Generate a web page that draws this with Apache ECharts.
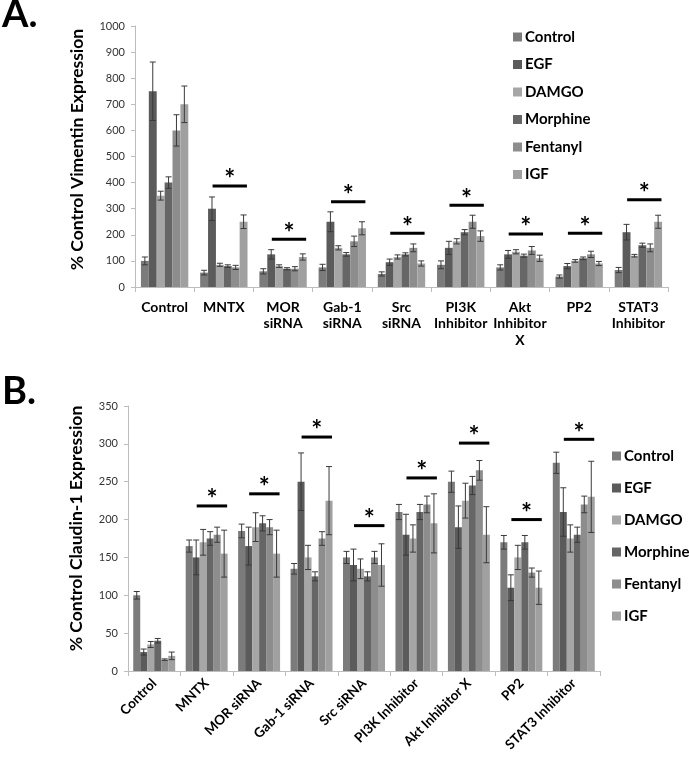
<!DOCTYPE html>
<html style="height: 100%">
<head>
    <meta charset="utf-8">
</head>
<body style="height: 100%; margin: 0; background: #fff">
    <div id="container" style="width: 689px; height: 765px"></div>
    <script type="text/javascript" src="https://cdn.jsdelivr.net/npm/echarts@6.0.0/dist/echarts.min.js"></script>
    <script type="text/javascript">
        // treatments (legend) and groups
        var seriesNames = ['Control', 'EGF', 'DAMGO', 'Morphine', 'Fentanyl', 'IGF'];
        var seriesColors = ['#7b7b7b', '#5b5b5b', '#a6a6a6', '#666666', '#8d8d8d', '#a0a0a0'];
        var categoriesA = ['Control', 'MNTX', 'MOR\nsiRNA', 'Gab-1\nsiRNA', 'Src\nsiRNA', 'PI3K\nInhibitor', 'Akt\nInhibitor\nX', 'PP2', 'STAT3\nInhibitor'];
        var categoriesB = ['Control', 'MNTX', 'MOR siRNA', 'Gab-1 siRNA', 'Src siRNA', 'PI3K Inhibitor', 'Akt Inhibitor X', 'PP2', 'STAT3 Inhibitor'];

        // A. vimentin, one row per treatment
        var vimMeans = [
            [100, 55, 60, 75, 50, 85, 75, 40, 65],
            [750, 300, 125, 250, 95, 150, 125, 80, 210],
            [350, 85, 80, 150, 115, 175, 135, 100, 120],
            [400, 80, 70, 125, 125, 210, 120, 110, 160],
            [600, 75, 70, 175, 150, 250, 140, 125, 150],
            [700, 250, 115, 225, 90, 195, 110, 90, 250]
        ];
        var vimErrors = [
            [15, 9, 10, 12, 8, 15, 10, 6, 10],
            [112, 45, 18, 38, 12, 25, 15, 10, 30],
            [17, 6, 5, 8, 8, 10, 8, 5, 5],
            [22, 5, 4, 7, 6, 10, 6, 5, 8],
            [60, 8, 8, 20, 15, 25, 15, 12, 15],
            [70, 26, 12, 25, 10, 20, 12, 8, 25]
        ];
        var vimSigLine = [null, 387, 183, 327, 206, 313, 203, 206, 334];

        // B. claudin-1
        var cldMeans = [
            [100, 165, 185, 135, 150, 210, 250, 170, 275],
            [25, 150, 165, 250, 140, 180, 190, 110, 210],
            [35, 170, 190, 150, 135, 175, 225, 150, 175],
            [40, 175, 195, 125, 125, 210, 245, 170, 180],
            [15, 180, 190, 175, 150, 220, 265, 130, 220],
            [20, 155, 155, 225, 140, 195, 180, 110, 230]
        ];
        var cldErrors = [
            [5, 8, 9, 7, 8, 10, 14, 9, 14],
            [4, 23, 25, 38, 21, 27, 28, 17, 32],
            [4, 17, 19, 16, 13, 18, 23, 16, 18],
            [3, 9, 10, 6, 6, 10, 12, 9, 10],
            [1, 10, 10, 9, 8, 11, 13, 6, 11],
            [5, 31, 31, 45, 28, 39, 37, 22, 47]
        ];
        var cldSigLine = [null, 218, 234, 309, 192, 255, 301, 200, 306];

        var FONT = 'Lato';
        var GAP = 0.2;

        var dom = document.getElementById('container');
        var myChart = echarts.init(dom);

        function errData(means, errors) {
            var res = [];
            for (var s = 0; s < means.length; s++) {
                for (var i = 0; i < means[s].length; i++) {
                    res.push([i, s, means[s][i], errors[s][i]]);
                }
            }
            return res;
        }

        function renderErr(params, api) {
            var cat = api.value(0), s = api.value(1), m = api.value(2), e = api.value(3);
            var w = api.size([1, 0])[0];
            var c = api.coord([cat, m]);
            var bw = w * (1 - GAP) / 6;
            var x = c[0] - w * (1 - GAP) / 2 + (s + 0.5) * bw;
            var top = api.coord([cat, m + e])[1];
            var bot = api.coord([cat, m - e])[1];
            var st = { stroke: '#3a3a3a', lineWidth: 1 };
            return {
                type: 'group',
                children: [
                    { type: 'line', shape: { x1: x, y1: top, x2: x, y2: bot }, style: st },
                    { type: 'line', shape: { x1: x - 3, y1: top, x2: x + 3, y2: top }, style: st },
                    { type: 'line', shape: { x1: x - 3, y1: bot, x2: x + 3, y2: bot }, style: st }
                ]
            };
        }

        function renderSig(params, api) {
            var cat = api.value(0), v = api.value(1);
            var w = api.size([1, 0])[0];
            var c = api.coord([cat, v]);
            var x1 = c[0] - 0.19 * w, x2 = c[0] + 0.39 * w;
            return {
                type: 'group',
                children: [
                    { type: 'line', shape: { x1: x1, y1: c[1], x2: x2, y2: c[1] }, style: { stroke: '#000', lineWidth: 3 } },
                    { type: 'text', x: (x1 + x2) / 2, y: c[1] - 6,
                      style: { text: '*', fill: '#000', font: 'bold 26px ' + FONT, align: 'center', verticalAlign: 'middle' } }
                ]
            };
        }

        function sigData(arr) {
            var res = [];
            arr.forEach(function (v, i) { if (v != null) res.push([i, v]); });
            return res;
        }

        var series = [];
        [vimMeans, cldMeans].forEach(function (means, p) {
            means.forEach(function (row, s) {
                series.push({
                    name: seriesNames[s],
                    type: 'bar',
                    xAxisIndex: p,
                    yAxisIndex: p,
                    data: row,
                    barGap: '0%',
                    barCategoryGap: '20%',
                    itemStyle: { color: seriesColors[s] }
                });
            });
        });
        series.push({
            type: 'custom', xAxisIndex: 0, yAxisIndex: 0, z: 5,
            renderItem: renderErr, encode: { x: 0, y: 2 }, data: errData(vimMeans, vimErrors)
        });
        series.push({
            type: 'custom', xAxisIndex: 1, yAxisIndex: 1, z: 5,
            renderItem: renderErr, encode: { x: 0, y: 2 }, data: errData(cldMeans, cldErrors)
        });
        series.push({
            type: 'custom', xAxisIndex: 0, yAxisIndex: 0, z: 5,
            renderItem: renderSig, encode: { x: 0, y: 1 }, data: sigData(vimSigLine)
        });
        series.push({
            type: 'custom', xAxisIndex: 1, yAxisIndex: 1, z: 5,
            renderItem: renderSig, encode: { x: 0, y: 1 }, data: sigData(cldSigLine)
        });

        var axisLine = { show: true, lineStyle: { color: '#bdbdbd' } };
        var tickLabel = { color: '#333', fontFamily: FONT, fontSize: 11, margin: 10, formatter: function (v) { return String(v); } };

        option = {
            backgroundColor: '#fff',
            animation: false,
            graphic: [
                { type: 'text', left: 2, top: -4, style: { text: 'A.', font: 'bold 38px ' + FONT, fill: '#000' } },
                { type: 'text', left: 2, top: 373, style: { text: 'B.', font: 'bold 38px ' + FONT, fill: '#000' } }
            ],
            grid: [
                { left: 135, right: 21, top: 26, height: 261 },
                { left: 128, right: 89, top: 406, height: 265 }
            ],
            legend: [
                {
                    data: seriesNames, orient: 'vertical', left: 508, top: 24,
                    itemWidth: 9, itemHeight: 9, itemGap: 11.5, selectedMode: false,
                    icon: 'rect',
                    textStyle: { fontFamily: FONT, fontWeight: 'bold', fontSize: 15, lineHeight: 16, color: '#000', padding: [0, 0, 0, -2] }
                },
                {
                    data: seriesNames, orient: 'vertical', left: 607, top: 443,
                    itemWidth: 9, itemHeight: 9, itemGap: 16, selectedMode: false,
                    icon: 'rect',
                    textStyle: { fontFamily: FONT, fontWeight: 'bold', fontSize: 15, lineHeight: 16, color: '#000', padding: [0, 0, 0, -2] }
                }
            ],
            xAxis: [
                {
                    type: 'category', gridIndex: 0, data: categoriesA,
                    axisLine: axisLine,
                    axisTick: { show: true, length: 5, lineStyle: { color: '#bdbdbd' } },
                    axisLabel: { interval: 0, color: '#000', fontFamily: FONT, fontWeight: 'bold', fontSize: 14, lineHeight: 16.5, margin: 12 }
                },
                {
                    type: 'category', gridIndex: 1, data: categoriesB,
                    axisLine: axisLine,
                    axisTick: { show: true, length: 5, lineStyle: { color: '#bdbdbd' } },
                    axisLabel: { interval: 0, rotate: 45, color: '#000', fontFamily: FONT, fontWeight: 'bold', fontSize: 13.5, margin: 10 }
                }
            ],
            yAxis: [
                {
                    type: 'value', gridIndex: 0, min: 0, max: 1000, interval: 100,
                    name: '% Control Vimentin Expression', nameLocation: 'middle', nameGap: 49,
                    nameTextStyle: { fontFamily: FONT, fontWeight: 'bold', fontSize: 17.5, color: '#000', padding: [0, 0, 0, 14] },
                    axisLine: axisLine,
                    axisTick: { show: true, length: 4, lineStyle: { color: '#bdbdbd' } },
                    axisLabel: tickLabel,
                    splitLine: { show: false }
                },
                {
                    type: 'value', gridIndex: 1, min: 0, max: 350, interval: 50,
                    name: '% Control Claudin-1 Expression', nameLocation: 'middle', nameGap: 43,
                    nameTextStyle: { fontFamily: FONT, fontWeight: 'bold', fontSize: 17.5, color: '#000', padding: [0, 0, 0, 20] },
                    axisLine: axisLine,
                    axisTick: { show: true, length: 4, lineStyle: { color: '#bdbdbd' } },
                    axisLabel: tickLabel,
                    splitLine: { show: false }
                }
            ],
            series: series
        };

        if (option && typeof option === 'object') {
            myChart.setOption(option, true);
        }
    </script>
</body>
</html>
